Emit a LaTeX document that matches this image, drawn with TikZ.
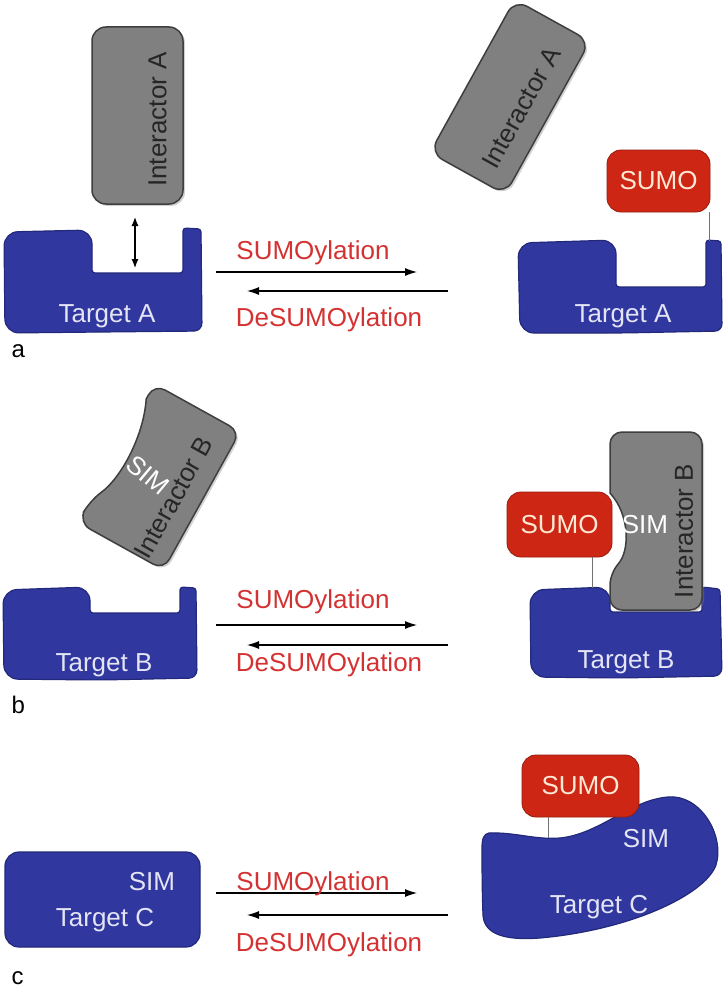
\documentclass[tikz,border=0pt]{standalone}
\usepackage{fontspec}
\setmainfont{Liberation Sans}
\usetikzlibrary{arrows.meta,shadows}

\definecolor{tblue}{RGB}{48,56,160}
\definecolor{tbluedark}{RGB}{34,40,122}
\definecolor{igray}{RGB}{128,128,128}
\definecolor{igraydark}{RGB}{62,62,62}
\definecolor{sred}{RGB}{206,38,20}
\definecolor{sreddark}{RGB}{150,28,15}
\definecolor{cream}{RGB}{255,232,212}
\definecolor{rxred}{RGB}{212,50,50}
\definecolor{tlabel}{RGB}{228,228,245}

\tikzset{
  target/.style={fill=tblue,draw=tbluedark,line width=1.2pt,rounded corners=14pt},
  interactor/.style={fill=igray,draw=igraydark,line width=1.5pt,rounded corners=14pt,transform shape,
    drop shadow={shadow xshift=2pt,shadow yshift=-2pt,opacity=0.35}},
  sumo/.style={fill=sred,draw=sreddark,line width=0.8pt,rounded corners=14pt,text=cream,inner sep=0pt,
    font=\fontsize{26}{30}\selectfont},
  tlab/.style={font=\fontsize{26}{30}\selectfont,text=tlabel,anchor=base},
  ilab/.style={font=\fontsize{26}{30}\selectfont,text=black!85,transform shape},
  simlab/.style={font=\fontsize{26}{30}\selectfont,text=white},
  rxlab/.style={font=\fontsize{26}{30}\selectfont,text=rxred,anchor=base},
  rxarrow/.style={line width=1.1pt,-{Latex[length=12pt,width=8pt]}},
  dblarrow/.style={line width=1.2pt,{Latex[length=9pt,width=7pt]}-{Latex[length=9pt,width=7pt]}},
  link/.style={draw=black!55,line width=0.9pt},
  panel/.style={font=\fontsize{24}{28}\selectfont,anchor=base west}
}

\begin{document}
\begin{tikzpicture}[x=1pt,y=-1pt]
    \fill[white] (0,0) rectangle (724,990);
    \useasboundingbox (0,0) rectangle (724,990);

    \draw[target] (100,332) [rounded corners=14pt] -- (5,333) -- (4,232) -- (92,230) [rounded corners=3pt] -- (92,273) -- (183,273) -- (183,228) -- (201,229) [rounded corners=8pt] -- (202,331) [rounded corners=14pt] -- cycle;
    \node[tlab] (TA1) at (107,322) {Target A};
    \begin{scope}[shift={(137.5,115.5)},rotate=90]
        \node[interactor,minimum width=177pt,minimum height=91pt] (IA1) at (0,0) {};
        \node[ilab] (IA1t) at (-4,20) {Interactor A};
    \end{scope}
    \coordinate (dA1) at (135,217);
    \coordinate (dA2) at (135,268);
    \draw[dblarrow] (dA1) -- (dA2);

    \coordinate (fa1) at (216,272);
    \coordinate (fa2) at (417,272);
    \coordinate (ra1) at (448,291);
    \coordinate (ra2) at (247,291);
    \draw[rxarrow] (fa1) -- (fa2);
    \draw[rxarrow] (ra1) -- (ra2);
    \node[rxlab] (SUa) at (313,259) {SUMOylation};
    \node[rxlab] (DSa) at (329,326) {DeSUMOylation};

    \draw[target] (620,333) [rounded corners=14pt] -- (520,333) -- (518,243) -- (616,240) [rounded corners=3pt] -- (616,287) -- (706,287) -- (706,240) -- (721,241) [rounded corners=7pt] -- (722,331) [rounded corners=14pt] -- cycle;
    \node[tlab] (TA2) at (623,322) {Target A};
    \begin{scope}[shift={(510,97)},rotate=61]
        \node[interactor,minimum width=175pt,minimum height=86pt] (IA2) at (0,0) {};
        \node[ilab] (IA2t) at (-4,15) {Interactor A};
    \end{scope}
    \node[sumo,minimum width=103pt,minimum height=62pt] (S1) at (658.5,181) {SUMO};
    \coordinate (tA2top) at (709,241);
    \draw[link] (S1.south -| tA2top) -- (tA2top);

    \node[panel] (la) at (8,357) {a};

    \draw[target] (100,680) [rounded corners=14pt] -- (4,679) -- (3,590) -- (90,587) [rounded corners=3pt] -- (90,613) -- (180,613) -- (180,587) -- (196,588) [rounded corners=8pt] -- (197,678) [rounded corners=14pt] -- cycle;
    \node[tlab] (TB1) at (104,671) {Target B};
    \begin{scope}[shift={(159,477)},rotate=61]
        \draw[interactor] (-79,49) [rounded corners=14pt] -- (-79,-49) -- (-54,-49) [sharp corners] .. controls (-20,-33) and (28,-33) .. (62,-49) [rounded corners=12pt] -- (79,-49) -- (79,49) -- cycle;
        \node[ilab] (IB1t) at (-11,23) {Interactor B};
    \end{scope}
    \node[simlab,rotate=-40] (SIM1) at (148,475) {SIM};

    \coordinate (fb1) at (216,625);
    \coordinate (fb2) at (417,625);
    \coordinate (rb1) at (448,645);
    \coordinate (rb2) at (247,645);
    \draw[rxarrow] (fb1) -- (fb2);
    \draw[rxarrow] (rb1) -- (rb2);
    \node[rxlab] (SUb) at (313,608) {SUMOylation};
    \node[rxlab] (DSb) at (329,671) {DeSUMOylation};

    \draw[target] (620,678) [rounded corners=14pt] -- (531,677) -- (530,590) -- (610,587) [rounded corners=3pt] -- (610,612) -- (702,612) -- (702,587) -- (720,589) [rounded corners=8pt] -- (722,676) [rounded corners=14pt] -- cycle;
    \node[tlab] (TB2) at (626,668) {Target B};
    \begin{scope}[shift={(656,521)},rotate=90]
        \draw[interactor] (-89,46) [rounded corners=12pt] -- (-89,-46) -- (-52,-46) [sharp corners] .. controls (-30,-26) and (6,-26) .. (28,-46) [rounded corners=12pt] -- (89,-46) -- (89,46) -- cycle;
        \node[ilab] (IB2t) at (-10,28) {Interactor B};
    \end{scope}
    \node[simlab] (SIM2) at (645,525) {SIM};
    \node[sumo,minimum width=105pt,minimum height=65pt] (S2) at (559.5,524.5) {SUMO};
    \coordinate (tB2top) at (592,588);
    \draw[link] (S2.south -| tB2top) -- (tB2top);

    \node[panel] (lb) at (8,713) {b};

    \draw[target] (5,852) rectangle (200,947);
    \node[tlab] (TC1) at (105,926) {Target C};
    \node[tlab] (SIM3) at (152,890) {SIM};

    \coordinate (fc1) at (216,893);
    \coordinate (fc2) at (417,893);
    \coordinate (rc1) at (448,915);
    \coordinate (rc2) at (247,915);
    \draw[rxarrow] (fc1) -- (fc2);
    \draw[rxarrow] (rc1) -- (rc2);
    \node[rxlab] (SUc) at (313,890) {SUMOylation};
    \node[rxlab] (DSc) at (329,951) {DeSUMOylation};

    \draw[target,sharp corners] (489,833) .. controls (515,832) and (535,840) .. (560,838)
        .. controls (600,834) and (630,800) .. (668,797)
        .. controls (700,794) and (725,835) .. (716,865)
        .. controls (705,895) and (630,930) .. (540,938)
        .. controls (500,941) and (484,932) .. (483,915)
        .. controls (482,890) and (482,860) .. (482,848)
        .. controls (482,838) and (484,834) .. (489,833) -- cycle;
    \node[tlab] (TC2) at (599,913) {Target C};
    \node[tlab] (SIM4) at (646,847) {SIM};
    \node[sumo,minimum width=117pt,minimum height=62pt] (S3) at (580.5,786) {SUMO};
    \coordinate (tC2top) at (548,838);
    \draw[link] (S3.south -| tC2top) -- (tC2top);

    \node[panel] (lc) at (8,984) {c};

\end{tikzpicture}
\end{document}
